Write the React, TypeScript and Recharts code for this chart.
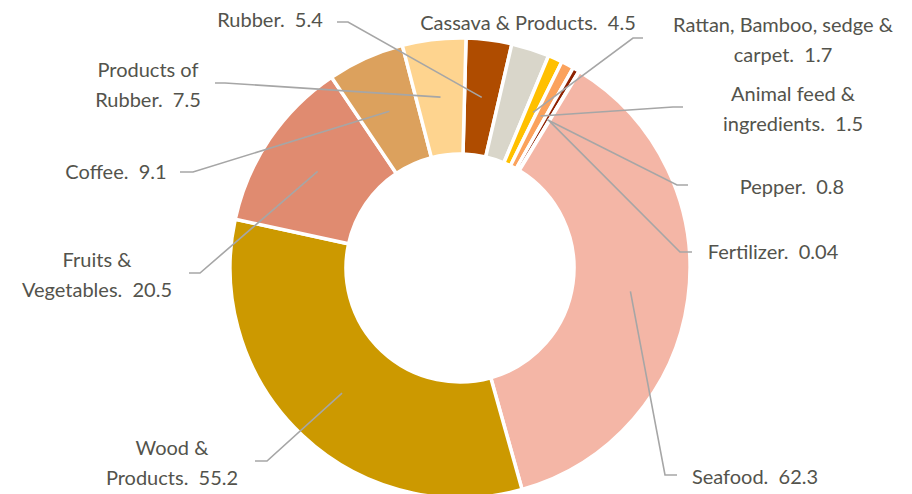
import { Cell, Pie, PieChart } from "recharts";

const categories = [
  "Rubber",
  "Cassava & Products",
  "Rattan, Bamboo, sedge & carpet",
  "Animal feed & ingredients",
  "Pepper",
  "Fertilizer",
  "Seafood",
  "Wood & Products",
  "Fruits & Vegetables",
  "Coffee",
  "Products of Rubber",
];
const values = [5.4, 4.5, 1.7, 1.5, 0.8, 0.04, 62.3, 55.2, 20.5, 9.1, 7.5];
// where the label text wraps onto a second line
const wrapAfter = [null, null, "Rattan, Bamboo, sedge &", "Animal feed &", null, null, null, "Wood &", "Fruits &", null, "Products of"];

const colors = [
  "#af4c00", "#d9d6ca", "#ffc000", "#fba25c", "#8e2100", "#c55a11",
  "#f4b6a6", "#cc9900", "#e08b70", "#dca15d", "#fed48f",
];

// label placement (text centre, leader line start + elbow)
const labelPos = [
  { x: 270, y: 20, start: [337, 22], elbow: [348, 22] },
  { x: 528, y: 23, start: [643, 38], elbow: [633, 38], shift: -7.3 },
  { x: 783, y: 25 },
  { x: 793, y: 94, start: [683, 107], elbow: [673, 107] },
  { x: 792, y: 187, start: [688, 185], elbow: [677, 185] },
  { x: 773, y: 252, start: [692, 252], elbow: [680, 252] },
  { x: 755, y: 477, start: [677, 475], elbow: [665, 475] },
  { x: 172, y: 448, start: [255, 461], elbow: [267, 461] },
  { x: 97, y: 260, start: [189, 273], elbow: [200, 273] },
  { x: 116, y: 172, start: [180, 172], elbow: [193, 172] },
  { x: 148, y: 70, start: [215, 83], elbow: [225, 83] },
];

const data = categories.map((name, i) => ({ name, value: values[i] }));
const RAD = Math.PI / 180;

function renderLabel(props: any) {
  const { cx, cy, midAngle, innerRadius, outerRadius, index } = props;
  const pos = labelPos[index];
  const full = `${categories[index]}.  ${values[index]}`;
  const first = wrapAfter[index];
  const lines = first ? [first, full.slice(first.length + 1)] : [full];
  const r = (innerRadius + outerRadius) / 2;
  const a = (midAngle + (pos.shift ?? 0)) * RAD;
  const ex = cx + r * Math.cos(-a);
  const ey = cy + r * Math.sin(-a);
  return (
    <g key={`lbl-${index}`}>
      {pos.start && (
        <polyline
          points={`${pos.start[0]},${pos.start[1]} ${pos.elbow[0]},${pos.elbow[1]} ${ex},${ey}`}
          fill="none"
          stroke="#a6a6a6"
          strokeWidth={1.6}
        />
      )}
      {lines.map((t, k) => (
        <text
          key={k}
          x={pos.x}
          y={pos.y + k * 30}
          dy="0.35em"
          textAnchor="middle"
          fill="#53534c"
          fontSize={20}
          fontFamily="Lato, 'Noto Sans', sans-serif"
          style={{ whiteSpace: "pre" }}
        >
          {t}
        </text>
      ))}
    </g>
  );
}

export default function App() {
  return (
    <div style={{ width: 912, height: 494, background: "#fff" }}>
      <style>{`body{margin:0}`}</style>
      <PieChart width={912} height={494} margin={{ top: 0, right: 0, bottom: 0, left: 0 }}>
        <Pie
          data={data}
          dataKey="value"
          nameKey="name"
          cx={460}
          cy={268}
          outerRadius={230}
          innerRadius={114}
          startAngle={88.5}
          endAngle={-271.5}
          stroke="#fff"
          strokeWidth={3.5}
          label={renderLabel}
          labelLine={false}
          isAnimationActive={false}
        >
          {data.map((d, i) => (
            <Cell key={d.name} fill={colors[i]} />
          ))}
        </Pie>
      </PieChart>
    </div>
  );
}
